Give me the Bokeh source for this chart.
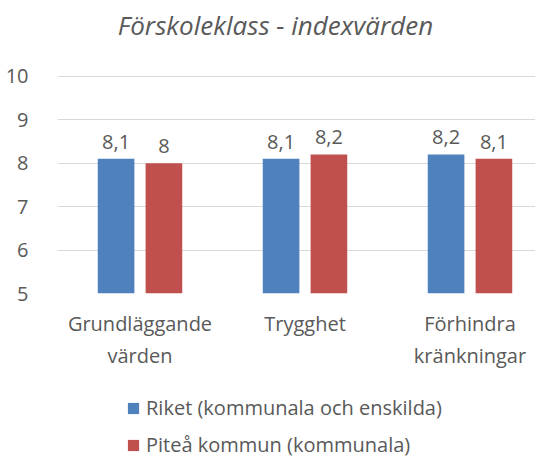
from bokeh.plotting import figure
from bokeh.layouts import column
from bokeh.models import Range1d, FixedTicker, Legend, LegendItem, ColumnDataSource, Label
from bokeh.core.properties import value
from bokeh.embed import file_html
from bokeh.resources import INLINE

title_text = "Förskoleklass - indexvärden"
categories = ["Grundläggande\nvärden", "Trygghet", "Förhindra\nkränkningar"]
riket = [8.1, 8.1, 8.2]
pitea = [8.0, 8.2, 8.1]
series_names = ["Riket (kommunala och enskilda)", "Piteå kommun (kommunala)"]
y_ticks = [5, 6, 7, 8, 9, 10]

BLUE = "#4F81BD"
RED = "#C0504D"
TXT = "#595959"
FONT = "Open Sans"

def fmt(v):
    s = ("%.1f" % v).rstrip("0").rstrip(".")
    return s.replace(".", ",")

idx = list(range(len(categories)))
off = 0.145
bw = 0.222

W = 535
H1 = 383
H2 = 75
FRAME_H = 293
px_per_unit = 43.44
y_top = y_ticks[0] + FRAME_H / px_per_unit   # frame extends above 10 to hold the title

p = figure(width=W, height=H1, output_backend="svg", toolbar_location=None,
           x_range=Range1d(-0.5, 2.397), y_range=Range1d(y_ticks[0], y_top),
           min_border_left=57, min_border_right=0, min_border_top=0,
           min_border_bottom=H1 - FRAME_H)
p.outline_line_color = None

src1 = ColumnDataSource(dict(x=[i - off for i in idx], top=riket, lab=[fmt(v) for v in riket]))
src2 = ColumnDataSource(dict(x=[i + off for i in idx], top=pitea, lab=[fmt(v) for v in pitea]))

r1 = p.vbar(x="x", top="top", bottom=0, width=bw, source=src1, fill_color=BLUE, line_color=None)
r2 = p.vbar(x="x", top="top", bottom=0, width=bw, source=src2, fill_color=RED, line_color=None)

for src in (src1, src2):
    p.text(x="x", y="top", text="lab", source=src, text_align="center",
           text_baseline="alphabetic", y_offset=-17, text_font=value(FONT),
           text_font_size="20px", text_color=TXT)

# axes
p.xaxis.ticker = FixedTicker(ticks=idx)
p.xaxis.major_label_overrides = {i: c for i, c in zip(idx, categories)}
p.yaxis.ticker = FixedTicker(ticks=y_ticks)
for ax in (p.xaxis, p.yaxis):
    ax.axis_line_color = None
    ax.major_tick_line_color = None
    ax.minor_tick_line_color = None
    ax.major_label_text_font = FONT
    ax.major_label_text_font_size = "20px"
    ax.major_label_text_color = TXT
p.yaxis.major_label_standoff = 23
p.xaxis.major_label_standoff = 10
p.xgrid.grid_line_color = None
p.ygrid.grid_line_color = "#D9D9D9"

# chart title (drawn inside the extended frame, above the 10 gridline)
title = Label(x=0.821, y=y_ticks[-1] + 51 / px_per_unit, text=title_text,
              text_align="center", text_baseline="alphabetic",
              text_font=FONT, text_font_style="italic", text_font_size="26px",
              text_color=TXT)
p.add_layout(title)

# legend in its own strip below the chart (bars kept out of view)
p2 = figure(width=W, height=H2, output_backend="svg", toolbar_location=None,
            x_range=Range1d(0, 1), y_range=Range1d(100, 101),
            x_axis_type=None, y_axis_type=None,
            min_border_left=0, min_border_right=0, min_border_top=0, min_border_bottom=0)
p2.outline_line_color = None
p2.xgrid.grid_line_color = None
p2.ygrid.grid_line_color = None
l1 = p2.vbar(x="x", top="top", bottom=0, width=bw, source=src1, fill_color=BLUE, line_color=None)
l2 = p2.vbar(x="x", top="top", bottom=0, width=bw, source=src2, fill_color=RED, line_color=None)

legend = Legend(items=[LegendItem(label=series_names[0], renderers=[l1]),
                       LegendItem(label=series_names[1], renderers=[l2])],
                orientation="vertical", location=(69, 0))
legend.border_line_color = None
legend.background_fill_alpha = 0
legend.glyph_width = 14
legend.glyph_height = 14
legend.label_standoff = 6
legend.label_text_font = FONT
legend.label_text_font_size = "20px"
legend.label_text_color = TXT
legend.label_height = 20
legend.spacing = 10
legend.padding = 0
legend.margin = 0
p2.add_layout(legend)

layout = column(p, p2, spacing=0)
open("out.html", "w").write(file_html(layout, INLINE))
